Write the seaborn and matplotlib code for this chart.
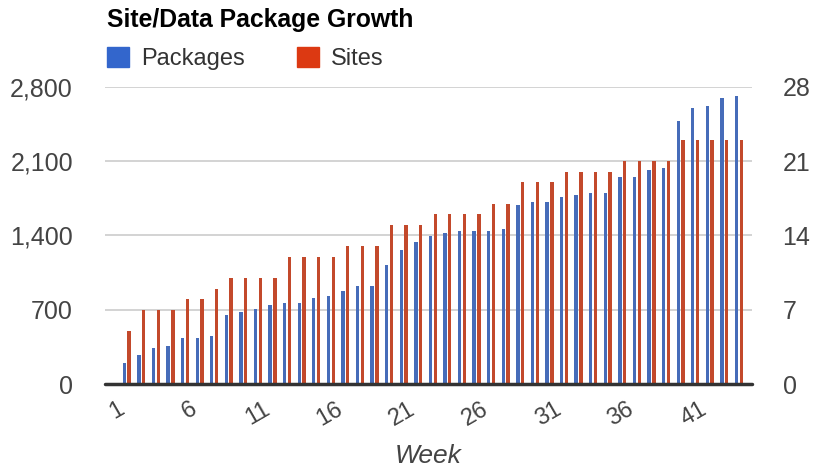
import matplotlib
matplotlib.use('Agg')
import matplotlib.pyplot as plt
from matplotlib.patches import Patch
from matplotlib.transforms import ScaledTranslation
import seaborn as sns
import pandas as pd

# weekly growth figures
weeks = list(range(1, 44))
packages = [195, 270, 340, 360, 430, 430, 450, 655, 680, 705, 745, 765, 765, 810, 830,
            875, 920, 920, 1125, 1265, 1335, 1395, 1420, 1440, 1440, 1440, 1460, 1690,
            1715, 1715, 1760, 1785, 1800, 1800, 1950, 1950, 2015, 2035, 2480, 2600,
            2620, 2690, 2710]
sites = [5, 7, 7, 7, 8, 8, 9, 10, 10, 10, 10, 12, 12, 12, 12, 13, 13, 13, 15, 15, 15,
         16, 16, 16, 16, 17, 17, 19, 19, 19, 20, 20, 20, 20, 21, 21, 21, 21, 23, 23,
         23, 23, 23]
left_ticks = [0, 700, 1400, 2100, 2800]
right_ticks = [0, 7, 14, 21, 28]

blue = '#3366cc'
red = '#dc3912'
series = ['Packages', 'Sites']
zeros = [0] * len(weeks)

# each axis gets both series so the dodge slots line up; the other one is zero
df_left = pd.DataFrame({'week': weeks * 2, 'value': packages + zeros,
                        'series': ['Packages'] * 43 + ['Sites'] * 43})
df_right = pd.DataFrame({'week': weeks * 2, 'value': zeros + sites,
                         'series': ['Packages'] * 43 + ['Sites'] * 43})

sns.set_style('white')
plt.rcParams['font.family'] = ['Liberation Sans', 'DejaVu Sans']

fig = plt.figure(figsize=(8.13, 4.69), dpi=100)
ax = fig.add_axes([0.129, 0.181, 0.796, 0.634])
ax2 = ax.twinx()

sns.barplot(data=df_left, x='week', y='value', hue='series', hue_order=series,
            palette=[blue, red], width=0.66, gap=0.3, linewidth=0, ax=ax, legend=False)
sns.barplot(data=df_right, x='week', y='value', hue='series', hue_order=series,
            palette=[blue, red], width=0.66, gap=0.3, linewidth=0, ax=ax2, legend=False)

ax.set_ylim(0, 2800)
ax2.set_ylim(0, 28)
ax.set_xlim(-1.5, 42.9)

ax.set_yticks(left_ticks)
ax.set_yticklabels([f'{t:,}' for t in left_ticks])
ax2.set_yticks(right_ticks)
ax2.set_yticklabels([str(t) for t in right_ticks])

ax.grid(axis='y', color='#cccccc', linewidth=1.2)
ax.set_axisbelow(True)
ax2.grid(False)
for a in (ax, ax2):
    for s in a.spines.values():
        s.set_visible(False)
    a.tick_params(axis='both', length=0, labelsize=17, colors='#444444')
    a.set_ylabel('')
ax.tick_params(axis='y', labelsize=18, pad=23)
ax2.tick_params(axis='y', labelsize=18, pad=22)
ax2.axhline(0, color='#333333', linewidth=2.5, zorder=5, clip_on=False)

ax.set_xticks(range(0, 43, 5))
ax.set_xticklabels([str(w) for w in weeks[::5]], rotation=30, ha='right',
                   rotation_mode='anchor')
ax.tick_params(axis='x', pad=10)
shift = ScaledTranslation(-10 / 100, 0, fig.dpi_scale_trans)
for lbl in ax.get_xticklabels():
    lbl.set_transform(lbl.get_transform() + shift)
ax.set_xlabel('Week', fontsize=19, style='italic', color='#444444', labelpad=10)

fig.text(0.131, 0.958, 'Site/Data Package Growth', fontsize=17.8, fontweight='bold',
         color='#000000', va='center', ha='left')
handles = [Patch(color=blue), Patch(color=red)]
fig.legend(handles, series, loc='center left', bbox_to_anchor=(0.105, 0.875), ncol=2,
           frameon=False, fontsize=17, handlelength=0.95, handleheight=0.95,
           handletextpad=0.5, columnspacing=2.2, labelcolor='#333333')

plt.savefig('out.png', dpi=100)
